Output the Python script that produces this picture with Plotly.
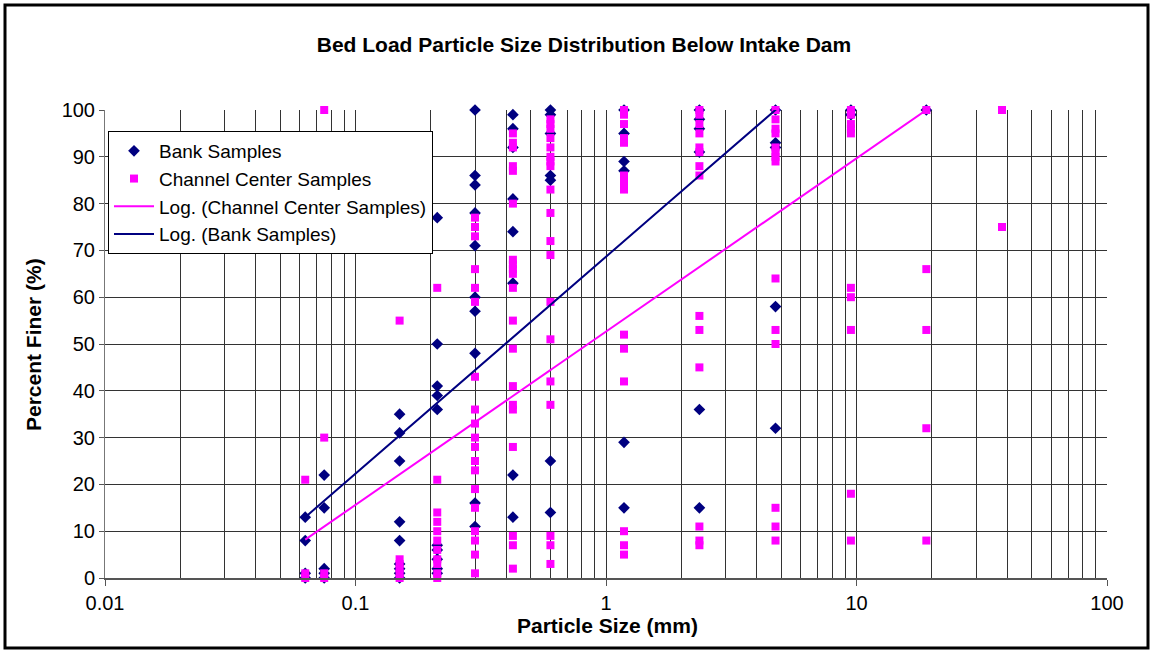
import numpy as np
import plotly.graph_objects as go

# ---------------- data ----------------
sieve_mm = [0.063, 0.075, 0.15, 0.212, 0.3, 0.425, 0.6, 1.18, 2.36, 4.75, 9.5, 19.0, 38.1]

bank_pct = [
    [13, 8, 1, 0],
    [22, 15, 2, 1, 0],
    [35, 31, 25, 12, 8, 3, 2, 1, 0],
    [77, 50, 41, 39, 36, 7, 6, 4, 2, 1],
    [100, 86, 84, 78, 71, 60, 57, 48, 16, 11],
    [99, 96, 92, 81, 74, 63, 22, 13],
    [100, 99, 95, 86, 85, 25, 14],
    [100, 95, 89, 87, 29, 15],
    [100, 98, 96, 91, 36, 15],
    [100, 93, 92, 58, 32],
    [100, 99],
    [100],
    [],
]

channel_pct = [
    [21, 1, 0],
    [100, 30, 1, 0],
    [55, 4, 3, 2, 1, 0],
    [62, 21, 14, 12, 10, 8, 6, 4, 3, 1, 0],
    [77, 75, 73, 66, 62, 59, 43, 36, 33, 30, 28, 25, 23, 19, 15, 10, 8, 5, 1],
    [95, 93, 92, 88, 87, 80, 68, 67, 66, 65, 62, 55, 49, 41, 37, 36, 28, 9, 7, 2],
    [98, 97, 96, 94, 92, 90, 89, 88, 83, 78, 72, 69, 59, 51, 42, 37, 9, 7, 3],
    [100, 99, 97, 94, 93, 86, 85, 84, 83, 52, 49, 42, 10, 7, 5],
    [100, 99, 97, 95, 92, 91, 88, 86, 56, 53, 45, 11, 8, 7],
    [100, 98, 96, 95, 92, 91, 90, 89, 64, 53, 50, 15, 11, 8],
    [100, 99, 97, 96, 95, 62, 60, 53, 18, 8],
    [100, 66, 53, 32, 8],
    [100, 75],
]

# logarithmic trendlines  y = a*ln(x) + b  (Excel "Log." trendline)
bank_trend_a, bank_trend_b = 20.13, 68.65
channel_trend_a, channel_trend_b = 16.08, 52.65

x_tick_vals = [0.01, 0.1, 1, 10, 100]
x_tick_text = ["0.01", "0.1", "1", "10", "100"]
y_tick_vals = list(range(0, 101, 10))

# ---------------- build ----------------
def flatten(sizes, groups):
    xs, ys = [], []
    for s, g in zip(sizes, groups):
        for v in g:
            xs.append(s)
            ys.append(v)
    return xs, ys

bx, by = flatten(sieve_mm, bank_pct)
cx, cy = flatten(sieve_mm, channel_pct)

tx = np.geomspace(min(sieve_mm), max(sieve_mm), 300)
bank_trend = bank_trend_a * np.log(tx) + bank_trend_b
chan_trend = channel_trend_a * np.log(tx) + channel_trend_b

NAVY = "#000080"
MAG = "#FF00FF"
FONT = "Liberation Sans, Arial, sans-serif"

fig = go.Figure()
fig.add_trace(go.Scatter(x=bx, y=by, mode="markers", name="Bank Samples", legendgroup="a",
                         marker=dict(symbol="diamond", size=9, color=NAVY, line=dict(width=0)),
                         cliponaxis=False))
fig.add_trace(go.Scatter(x=cx, y=cy, mode="markers", name="Channel Center Samples", legendgroup="b",
                         marker=dict(symbol="square", size=8, color=MAG, line=dict(width=0)),
                         cliponaxis=False))
fig.add_trace(go.Scatter(x=tx, y=chan_trend, mode="lines", name="Log. (Channel Center Samples)",
                         legendgroup="c", line=dict(color=MAG, width=2)))
fig.add_trace(go.Scatter(x=tx, y=bank_trend, mode="lines", name="Log. (Bank Samples)",
                         legendgroup="d", line=dict(color=NAVY, width=2)))

L, R, T, B = 105, 46, 110, 74
W, H = 1153, 652
pw = W - L - R
ph = H - T - B

def px_x(x):
    return (x - L) / pw

def px_y(y):
    return (H - B - y) / ph

fig.update_layout(
    width=W, height=H,
    margin=dict(l=L, r=R, t=T, b=B),
    paper_bgcolor="white", plot_bgcolor="white",
    font=dict(family=FONT, color="black", size=18),
    title=dict(text="<b>Bed Load Particle Size Distribution Below Intake Dam</b>",
               x=584 / W, xanchor="center", y=1 - 45 / H, yanchor="middle",
               font=dict(size=21, family=FONT)),
    showlegend=True,
    legend=dict(x=px_x(108), y=px_y(131), xanchor="left", yanchor="top",
                bgcolor="white", bordercolor="black", borderwidth=1,
                font=dict(size=19, family=FONT), tracegroupgap=0, itemwidth=40),
    xaxis=dict(type="log", range=[-2, 2], tickvals=x_tick_vals, ticktext=x_tick_text,
               showgrid=True, gridcolor="#333333", gridwidth=1,
               minor=dict(dtick="D1", showgrid=True, gridcolor="#333333", gridwidth=1, ticks=""),
               showline=True, linecolor="#555555", linewidth=2,
               ticks="outside", ticklen=6, tickcolor="#555555",
               tickfont=dict(size=20, family=FONT), zeroline=False),
    yaxis=dict(range=[0, 100], tickvals=y_tick_vals,
               showgrid=True, gridcolor="#333333", gridwidth=1,
               showline=True, linecolor="#777777", linewidth=1,
               ticks="outside", ticklen=5, tickcolor="#555555",
               tickfont=dict(size=20, family=FONT), zeroline=False),
    annotations=[
        dict(text="<b>Particle Size (mm)</b>", xref="paper", yref="paper",
             x=px_x(607), y=px_y(625), xanchor="center", yanchor="middle",
             showarrow=False, font=dict(size=21, family=FONT)),
        dict(text="<b>Percent Finer (%)</b>", xref="paper", yref="paper",
             x=px_x(33), y=px_y(345), xanchor="center", yanchor="middle",
             textangle=-90, showarrow=False, font=dict(size=21, family=FONT)),
    ],
    shapes=[
        dict(type="rect", xref="paper", yref="paper",
             x0=px_x(5), x1=px_x(1148), y0=px_y(648), y1=px_y(5),
             line=dict(color="black", width=3), fillcolor="rgba(0,0,0,0)", layer="below"),
    ],
)

fig.write_html("out.html")
